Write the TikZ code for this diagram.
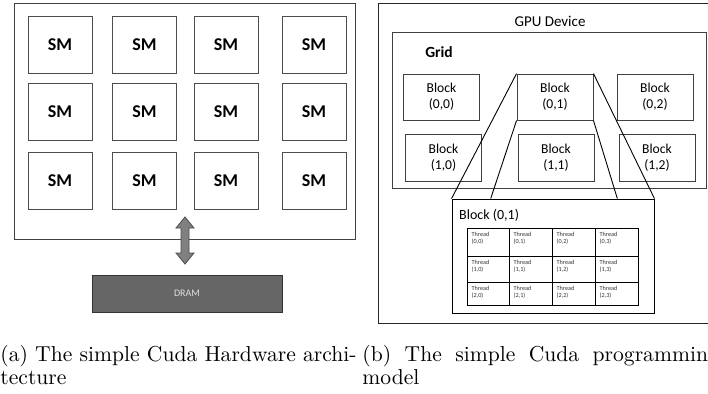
\documentclass[tikz,border=0pt]{standalone}
\usepackage{fontspec}
\newfontfamily\calfont{Carlito}
\usetikzlibrary{calc}

\tikzset{
  smbox/.style={draw=black!70, line width=0.9pt, minimum width=64pt, minimum height=57pt,
    inner sep=0pt, font=\calfont\bfseries\fontsize{18}{20}\selectfont},
  frame/.style={draw=black!75, line width=0.9pt, inner sep=0pt},
  blockbox/.style={draw=black!75, line width=0.9pt, minimum width=76pt, minimum height=46pt,
    inner sep=0pt, align=center, font=\calfont\fontsize{13.6}{16}\selectfont},
  zoomline/.style={draw=black, line width=0.9pt},
  cell/.style={draw=black, line width=1pt},
  celltext/.style={anchor=north west, inner sep=0pt, align=left, text=black!80,
    font=\calfont\fontsize{6.2}{7.4}\selectfont},
  % captions are set in 10pt roman and enlarged, keeping the 10pt design size
  caption/.style={anchor=base west, inner sep=0pt, scale=2.16, font=\fontsize{10}{12}\selectfont},
}

\begin{document}
\begin{tikzpicture}[x=1pt, y=-1pt]
\useasboundingbox (0,0) rectangle (708,393);
\clip (0,0) rectangle (708,393);

% ---------- hardware side ----------
\node[frame, minimum width=341pt, minimum height=236pt] (hw) at (184.5,121) {};

\foreach \r/\y in {1/44.5, 2/112, 3/180.5} {
  \foreach \c/\x in {1/60, 2/144.5, 3/226, 4/314} {
    \node[smbox] (sm\r\c) at (\x,\y) {SM};
  }
}

\node[draw=black!80, fill=black!60, line width=0.9pt, minimum width=190pt, minimum height=37pt,
      inner sep=0pt, text=black!12, font=\calfont\fontsize{10}{12}\selectfont]
      (dram) at (187,293.5) {DRAM};

% two-headed link between the chip and DRAM
\coordinate (ltop) at (185,217);
\coordinate (lbot) at (185,264);
\filldraw[fill=black!50, draw=black!70, line width=0.8pt]
  (ltop) -- ++(-9,11) -- ++(5,0) -- ($(lbot)+(-4,-11)$) -- ++(-5,0) -- (lbot)
  -- ++(9,-11) -- ++(-5,0) -- ($(ltop)+(4,11)$) -- ++(5,0) -- cycle;

% ---------- programming model side ----------
\draw[line width=0.9pt, draw=black!85] (378,3) rectangle (740,323);
\coordinate (dev) at (378,3);
\node[font=\calfont\fontsize{15}{17}\selectfont] (devlabel) at (550,21) {GPU Device};

\node[frame, minimum width=314pt, minimum height=156pt] (grid) at (549,110) {};
\node[font=\calfont\bfseries\fontsize{15.5}{17}\selectfont] (gridlabel) at (439,52) {Grid};

\node[blockbox] (b00) at (441.5,97) {Block\\(0,0)};
\node[blockbox] (b01) at (555,97) {Block\\(0,1)};
\node[blockbox] (b02) at (655,97) {Block\\(0,2)};
\node[blockbox, minimum height=47pt] (b10) at (443.5,157.5) {Block\\(1,0)};
\node[blockbox, minimum height=47pt] (b11) at (556,157.5) {Block\\(1,1)};
\node[blockbox, minimum height=47pt] (b12) at (657,157.5) {Block\\(1,2)};

% enlarged block
\node[draw=black, line width=0.9pt, minimum width=202pt, minimum height=114pt, inner sep=0pt,
      fill=white] (detail) at (553,256) {};
\node[anchor=west, inner sep=0pt, font=\calfont\fontsize{14}{16}\selectfont]
  (detaillabel) at (459,215) {Block (0,1)};

\draw[zoomline] (b01.north west) -- (detail.north west);
\draw[zoomline] (b01.north east) -- (detail.north east);
\draw[zoomline] (b01.south west) -- ($(detail.north west)!0.193!(detail.north east)$);
\draw[zoomline] (b01.south east) -- ($(detail.north west)!0.817!(detail.north east)$);

% thread table
\foreach \r/\ya/\yb in {0/228/256, 1/256/282, 2/282/305} {
  \foreach \c/\xa/\xb in {0/467/509, 1/509/552, 2/552/595, 3/595/638} {
    \draw[cell] (\xa,\ya) rectangle (\xb,\yb);
    \node[celltext] (t\r\c) at (\xa+4.5,\ya+4) {Thread\\(\r,\c)};
  }
}

% ---------- captions ----------
\node[caption] (capa) at (0,361) {(a) The simple Cuda Hardware archi-};
\node[caption] (capa2) at (0,384) {tecture};
\node[caption, text width=165pt] (capb) at (362,361)
  {(b)\hfill The\hfill simple\hfill Cuda\hfill programming};
\node[caption] (capb2) at (362,384) {model};
\end{tikzpicture}
\end{document}
